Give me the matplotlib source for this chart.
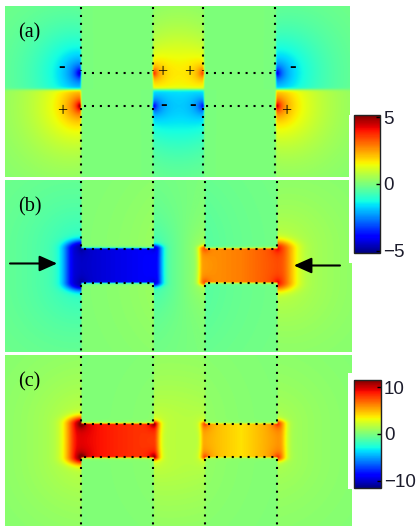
import numpy as np
import matplotlib.pyplot as plt
from matplotlib.colors import Normalize
from matplotlib.patches import Rectangle

# -------------------------------------------
# Layout (figure pixels, 419 x 526)
# -------------------------------------------

FIG_W, FIG_H = 419, 526
PANEL_W, PANEL_H = 345, 171

panel_labels = ['(a)', '(b)', '(c)']
panel_box = [(5, 6, 349, 177), (5, 180, 351, 352), (5, 355, 351, 526)]
cbar_box = [(354, 115, 380, 253), (354, 380, 381, 488)]

# -------------------------------------------
# Data (panel pixel units, y pointing down)
# -------------------------------------------

slit_x = [(76, 148), (199, 271)]
gap_top = [67, 69, 69]
gap_bot = [100, 102, 102]

# (a) surface charges sitting on the gap corners
charge_x = [76, 76, 148, 148, 199, 199, 271, 271]
charge_row = [0, 1, 0, 1, 0, 1, 0, 1]          # 0 = upper edge, 1 = lower edge
charge_q = [-1.0, 1.1, 0.95, -0.95, 0.85, -0.9, -0.85, 1.0]
charge_lobe = [3.2, 3.5, 2.1, 2.3, 2.0, 2.2, 3.0, 3.3]
sign_text = ['-', '+', '+', '+', '-', '-', '-', '+']
sign_xy = [(57, 62), (57, 106), (158, 67), (185, 67),
           (159, 100), (188, 100), (288, 62), (282, 106)]

# (b) field in the two gaps: [left end, centre, right end]
b_gap_vals = [[-4.6, -4.4, -4.3], [3.0, 3.1, 3.5]]
b_corner = [-0.5, 1.0]
b_spread = [(6, 12, 2, 7), (2, 5, 3, 15)]      # plateau / width, left then right end
b_broad = [0.28, 0.32]

# (c)
c_gap_vals = [[9.4, 8.4, 7.6], [4.6, 3.6, 5.6]]
c_corner = [4.0, 3.0]
c_spread = [(3, 13, 0, 6), (1, 4, 2, 7)]
c_broad = [0.22, 0.22]

cbar_lim = [5.15, 11.6]
cbar_ticks = [[-5, 0, 5], [-10, 0, 10]]

# arrows in (b): (tail, tip)
arrows_b = [((5, 83), (52, 83)), ((334, 85), (288, 85))]


# -------------------------------------------
# Field maps
# -------------------------------------------

def sig(t):
    return 0.5 * (1 + np.tanh(t))


def outside_slits(X):
    m = np.ones_like(X)
    for x0, x1 in slit_x:
        m -= sig((X - x0) / 0.7) * sig((x1 - X) / 0.7)
    return m


def field_a(X, Y):
    y0, y1 = gap_top[0], gap_bot[0]
    ymid = 0.5 * (y0 + y1)
    f = np.zeros_like(X)
    for x, row, q, lobe in zip(charge_x, charge_row, charge_q, charge_lobe):
        cy = y0 if row == 0 else y1
        r = np.hypot(X - x, Y - cy)
        half = sig((ymid - Y) / 1.5) if row == 0 else sig((Y - ymid) / 1.5)
        spot = 1.6 * np.exp(-r / 3) + 1.0 * np.exp(-r / 7)
        f += np.sign(q) * (abs(q) * spot + lobe * np.exp(-r / 36)) * half
    return f * outside_slits(X)


def field_gaps(X, Y, top, bot, vals, corner, spread, broad):
    f = np.zeros_like(X)
    for (x0, x1), v, vc, (el, sl, er, sr), w in zip(slit_x, vals, corner, spread, broad):
        dx = np.maximum(np.maximum(x0 - X, X - x1), 0)
        dy = np.maximum(np.maximum(top - Y, Y - bot), 0)
        d = np.hypot(dx, dy)
        left = X < x0
        e = np.where(left, el, er)
        s = np.where(left, sl, sr)
        d_an = np.hypot(dx, 2.0 * dy)
        near = np.exp(-(np.maximum(d_an - e, 0) / s) ** 2)
        in_col = (X >= x0) & (X <= x1)
        col_cut = np.where(in_col, np.exp(-dy / 0.8), 1.0)
        frac = np.where(in_col, col_cut, (1 - w) * near + w * np.exp(-d / 55))
        prof = np.interp(X, [x0, 0.5 * (x0 + x1), x1], v)
        f += prof * frac
        for cx in (x0, x1):
            for cy in (top, bot):
                r = np.hypot(X - cx, Y - cy)
                f += vc * np.exp(-r / 3.5) * col_cut
    return f


xs = np.linspace(0.25, PANEL_W - 0.25, 2 * PANEL_W)
ys = np.linspace(0.25, PANEL_H - 0.25, 2 * PANEL_H)
X, Y = np.meshgrid(xs, ys)

fields = [
    field_a(X, Y),
    field_gaps(X, Y, gap_top[1], gap_bot[1], b_gap_vals, b_corner, b_spread, b_broad),
    field_gaps(X, Y, gap_top[2], gap_bot[2], c_gap_vals, c_corner, c_spread, c_broad),
]
norms = [Normalize(-cbar_lim[0], cbar_lim[0]),
         Normalize(-cbar_lim[0], cbar_lim[0]),
         Normalize(-cbar_lim[1], cbar_lim[1])]


# -------------------------------------------
# Plotting
# -------------------------------------------

def fig_rect(box):
    x0, y0, x1, y1 = box
    return [x0 / FIG_W, 1 - y1 / FIG_H, (x1 - x0) / FIG_W, (y1 - y0) / FIG_H]


def draw_outline(ax, top, bot):
    dots = dict(color='k', lw=1.5, linestyle=(0, (1, 2.8)))
    for x0, x1 in slit_x:
        for x in (x0, x1):
            ax.plot([x, x], [1, top - 2], **dots)
            ax.plot([x, x], [bot + 2, PANEL_H], **dots)
        ax.plot([x0 + 3, x1], [top, top], **dots)
        ax.plot([x0 + 3, x1], [bot, bot], **dots)


fig = plt.figure(figsize=(FIG_W / 100, FIG_H / 100), dpi=100)

images = []
for i in range(3):
    ax = fig.add_axes(fig_rect(panel_box[i]))
    im = ax.imshow(fields[i], cmap='jet', norm=norms[i], interpolation='bilinear',
                   extent=(0, PANEL_W, PANEL_H, 0), aspect='auto')
    images.append(im)
    draw_outline(ax, gap_top[i], gap_bot[i])
    ax.set_xlim(0, PANEL_W)
    ax.set_ylim(PANEL_H, 0)
    ax.axis('off')
    ax.text(13, 27, panel_labels[i], fontsize=14.5, family='Liberation Serif',
            ha='left', va='center')

    if i == 0:
        for t, (tx, ty) in zip(sign_text, sign_xy):
            if t == '-':
                ax.text(tx, ty, t, fontsize=14, fontweight='bold',
                        family='Liberation Serif', ha='center', va='center')
            else:
                ax.text(tx, ty, t, fontsize=13, family='Liberation Serif',
                        ha='center', va='center')
    if i == 1:
        for tail, tip in arrows_b:
            ax.annotate('', xy=tip, xytext=tail,
                        arrowprops=dict(arrowstyle='-|>,head_length=0.9,head_width=0.4',
                                        color='k', lw=1.5, mutation_scale=12,
                                        shrinkA=0, shrinkB=0))

# white boxes behind the colour bars
for x0, y0, x1, y1 in [(349, 115, 419, 263), (348, 373, 419, 489)]:
    fig.add_artist(Rectangle((x0 / FIG_W, 1 - y1 / FIG_H), (x1 - x0) / FIG_W, (y1 - y0) / FIG_H,
                             transform=fig.transFigure, facecolor='white',
                             edgecolor='none', zorder=1))

for k, im in enumerate([images[0], images[2]]):
    cax = fig.add_axes(fig_rect(cbar_box[k]))
    cax.set_zorder(2)
    cb = fig.colorbar(im, cax=cax, ticks=cbar_ticks[k])
    cb.outline.set_linewidth(1.0)
    cb.outline.set_edgecolor('#222222')
    cax.tick_params(direction='in', length=3, width=1, pad=2,
                    labelsize=13.5, labelcolor='#1c1c2c')
    for lab in cax.get_yticklabels():
        lab.set_family('Liberation Sans')

fig.savefig('out.png', dpi=100, facecolor='white')
